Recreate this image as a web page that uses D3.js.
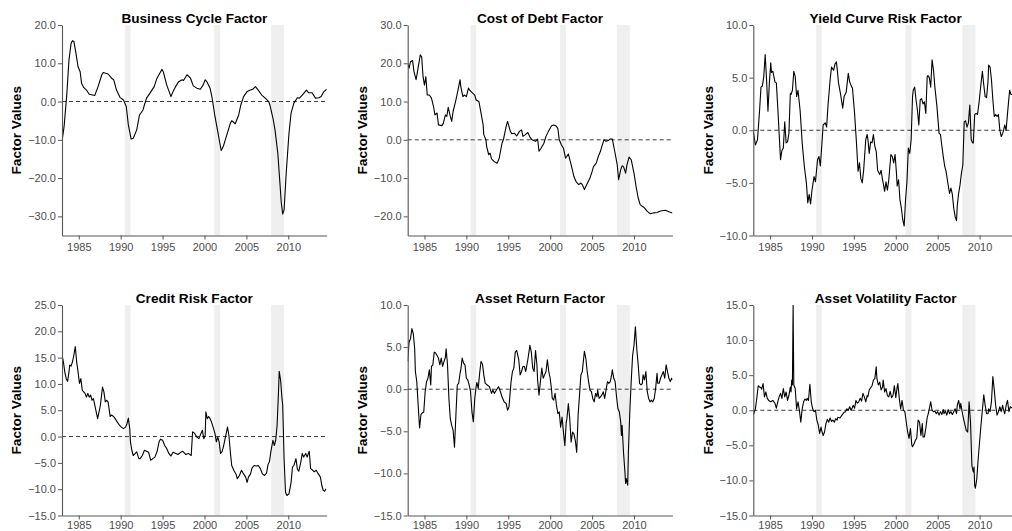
<!DOCTYPE html>
<html>
<head>
<meta charset="utf-8">
<script src="https://cdn.jsdelivr.net/npm/d3@7"></script>
<style>
  body { margin: 0; background: #fff; }
  svg { display: block; }
  text { font-family: "Liberation Sans", Arial, Helvetica, sans-serif; }
</style>
</head>
<body>
<svg id="chart" width="1012" height="531"></svg>
<script>
// Monthly factor estimates; month index 0 = January 1983.
const startYear = 1983;
const lastMonth = 379; // August 2014

const yearTicks = [1985, 1990, 1995, 2000, 2005, 2010];

// NBER recession periods (decimal years)
const recessions = [[1990.5, 1991.17], [2001.17, 2001.875], [2007.95, 2009.5]];

const businessCycle = [[0,-10.4],[3,-6.5],[7,2.2],[10,10.9],[13,15.2],[15,15.9],[17,15.7],[20,12.6],[23,9.1],[26,7.8],[28,4.8],[31,3.7],[35,3.0],[39,1.9],[47,1.6],[52,4.1],[57,7.0],[59,7.6],[66,7.2],[71,6.1],[74,5.7],[78,3.0],[83,1.1],[88,0.4],[92,-1.3],[95,-6.1],[99,-9.8],[102,-9.6],[107,-7.4],[111,-3.5],[116,-2.2],[118,-0.9],[121,0.9],[126,2.2],[132,3.9],[136,6.1],[143,8.4],[145,7.8],[150,4.3],[156,1.3],[159,2.6],[162,3.7],[167,5.2],[172,5.7],[174,5.5],[179,7.0],[184,6.1],[188,4.1],[193,3.5],[198,3.2],[202,4.3],[205,5.7],[208,5.0],[212,3.5],[215,0.9],[219,-3.9],[223,-7.8],[226,-10.9],[228,-12.8],[231,-11.7],[236,-8.7],[241,-5.7],[243,-5.0],[248,-5.8],[253,-3.5],[256,-0.9],[260,1.3],[265,2.6],[270,3.0],[273,3.2],[277,3.9],[281,3.0],[286,1.7],[291,0.9],[296,0.0],[298,-1.1],[302,-4.3],[305,-7.4],[309,-13.5],[312,-21.3],[314,-26.5],[316,-29.4],[318,-28.3],[321,-18.7],[325,-8.3],[328,-3.0],[332,-0.4],[337,1.0],[340,0.9],[344,1.7],[350,3.0],[353,2.3],[358,2.3],[363,0.9],[368,1.0],[371,1.3],[375,2.6],[379,3.2]];

const costOfDebt = [[0,20.0],[2,18.7],[4,20.4],[7,20.7],[9,17.8],[12,15.7],[14,17.8],[18,22.2],[20,21.7],[22,16.5],[24,14.3],[26,16.5],[28,11.7],[31,11.7],[34,10.9],[37,8.7],[39,6.5],[42,7.0],[44,3.9],[49,3.7],[51,4.3],[54,6.5],[56,6.1],[58,8.5],[61,6.1],[63,4.8],[65,7.4],[69,10.4],[72,13.0],[75,15.7],[76,13.9],[79,11.3],[81,11.7],[84,11.3],[87,13.5],[89,12.9],[93,12.2],[96,11.7],[98,10.4],[102,10.0],[105,7.0],[108,3.9],[109,1.3],[112,0.0],[113,-1.7],[116,-3.9],[118,-3.5],[120,-5.0],[124,-5.7],[128,-6.1],[131,-4.8],[135,-0.9],[137,0.0],[141,3.5],[143,4.8],[147,2.2],[149,1.6],[153,1.7],[156,1.0],[160,2.2],[163,2.6],[165,0.9],[168,1.3],[172,1.9],[175,0.7],[178,0.0],[183,-0.4],[186,0.2],[188,-3.0],[191,-2.2],[195,-0.9],[198,0.9],[202,2.4],[206,3.7],[209,3.9],[212,3.7],[215,3.0],[217,0.0],[220,-1.3],[223,-2.2],[226,-4.8],[228,-4.3],[230,-3.7],[234,-6.5],[238,-9.6],[241,-10.9],[245,-11.7],[248,-11.3],[250,-11.7],[253,-13.0],[255,-12.2],[258,-11.1],[261,-10.0],[264,-8.3],[266,-7.0],[270,-6.1],[273,-4.3],[276,-3.0],[278,-1.7],[281,0.0],[284,-0.4],[287,-0.2],[290,0.2],[293,0.2],[296,-2.6],[300,-6.5],[302,-10.4],[305,-7.8],[307,-6.8],[309,-7.0],[312,-8.7],[314,-6.5],[317,-4.5],[320,-5.2],[324,-8.7],[327,-12.2],[330,-15.2],[333,-17.0],[338,-17.6],[343,-18.7],[347,-19.3],[352,-19.1],[357,-19.0],[362,-18.6],[369,-18.4],[374,-18.8],[379,-19.1]];

const yieldCurveRisk = [[0,-0.1],[3,-1.4],[6,-0.9],[9,1.9],[11,4.1],[13,4.2],[15,5.1],[17,7.2],[19,4.8],[21,1.8],[23,4.5],[25,6.4],[26,5.5],[28,5.6],[31,4.6],[33,4.5],[35,2.2],[37,-0.3],[39,-2.8],[41,-1.9],[43,-1.7],[45,0.8],[47,-1.2],[49,-1.1],[51,-0.3],[53,3.5],[54,3.4],[56,3.8],[58,5.6],[60,5.1],[62,3.2],[64,3.8],[67,1.9],[70,-1.2],[73,-3.4],[76,-5.0],[78,-6.9],[80,-6.1],[82,-7.0],[84,-5.7],[87,-4.4],[89,-4.9],[92,-2.8],[94,-2.5],[96,-3.4],[98,-1.5],[100,0.5],[103,0.7],[105,0.3],[107,2.4],[110,4.8],[112,6.0],[115,5.7],[117,6.3],[119,6.5],[120,5.9],[122,4.5],[125,3.4],[128,2.1],[130,3.2],[133,3.6],[136,5.4],[138,4.6],[141,4.1],[142,4.0],[145,1.6],[148,-1.5],[150,-3.9],[152,-3.1],[154,-4.6],[156,-5.0],[158,-3.8],[161,-0.9],[163,-0.4],[164,-0.8],[166,-2.2],[168,-1.1],[170,-1.2],[172,-0.4],[174,-1.5],[176,-2.0],[178,-3.8],[181,-4.2],[183,-3.8],[185,-4.7],[186,-5.0],[188,-5.8],[190,-4.9],[192,-5.7],[194,-4.7],[197,-2.3],[199,-2.5],[201,-3.1],[203,-2.3],[205,-4.1],[206,-5.3],[208,-4.7],[210,-6.6],[212,-7.4],[214,-8.5],[216,-9.1],[218,-6.6],[220,-4.9],[222,-1.7],[224,-2.2],[226,-0.9],[228,3.2],[229,3.8],[231,4.1],[233,2.9],[235,1.9],[237,0.5],[239,2.9],[241,3.0],[243,2.5],[245,2.7],[247,1.6],[249,5.1],[250,5.2],[252,5.0],[254,4.1],[256,6.7],[258,5.7],[260,4.1],[263,2.2],[266,-0.3],[268,-0.4],[270,-1.5],[272,-2.5],[274,-3.4],[276,-3.9],[279,-5.2],[281,-6.0],[283,-5.5],[285,-6.1],[287,-7.4],[289,-8.2],[291,-8.6],[292,-7.2],[294,-6.0],[296,-5.2],[298,-4.1],[300,-3.3],[302,0.8],[304,0.9],[306,0.3],[308,0.7],[310,2.4],[312,-0.9],[314,-1.2],[315,-1.2],[317,1.5],[319,1.6],[321,1.5],[323,2.5],[325,3.8],[328,5.6],[330,4.3],[332,3.2],[334,3.1],[336,4.6],[337,6.2],[339,6.0],[341,4.8],[343,2.9],[345,1.3],[347,1.5],[349,1.3],[351,1.5],[353,0.0],[355,-0.6],[357,-0.3],[358,-0.1],[360,0.5],[362,0.0],[364,1.6],[367,3.8],[369,3.4],[371,3.4]];

const creditRisk = [[0,15.5],[2,14.2],[4,12.3],[6,11.0],[8,10.5],[10,12.3],[11,13.6],[13,13.4],[15,14.2],[17,15.5],[19,17.1],[21,14.2],[23,12.3],[25,10.1],[27,11.0],[29,8.8],[31,8.5],[33,8.2],[35,7.5],[37,8.2],[39,7.5],[41,7.9],[43,6.9],[45,7.2],[48,5.3],[51,3.4],[54,5.3],[55,6.0],[58,9.4],[60,8.5],[62,6.6],[64,6.9],[66,6.6],[69,3.8],[71,4.1],[74,3.8],[76,3.4],[79,2.8],[82,2.2],[85,1.8],[88,1.5],[91,1.8],[93,2.4],[95,3.5],[97,1.5],[98,-1.0],[100,-2.6],[102,-3.6],[105,-3.2],[107,-2.9],[110,-4.2],[112,-4.2],[115,-3.6],[118,-2.6],[121,-2.8],[124,-3.0],[127,-4.5],[130,-4.2],[133,-3.9],[136,-2.9],[139,-1.0],[141,-0.5],[144,-0.7],[147,-1.7],[150,-2.3],[153,-3.2],[156,-3.7],[159,-3.0],[163,-3.2],[166,-3.4],[170,-3.0],[173,-2.8],[177,-3.4],[181,-3.2],[185,-3.6],[187,0.9],[190,0.6],[193,-0.1],[196,-0.4],[199,0.6],[201,1.2],[203,-0.4],[205,0.2],[206,4.7],[208,3.4],[210,3.8],[212,3.4],[214,2.8],[217,1.5],[219,0.6],[221,-1.0],[223,-0.1],[225,-1.0],[227,-3.2],[229,-2.9],[231,-2.0],[234,-0.1],[237,1.8],[239,0.2],[241,-2.9],[243,-5.5],[246,-6.4],[249,-7.1],[251,-8.0],[254,-7.4],[257,-6.4],[260,-7.1],[263,-7.7],[265,-8.7],[267,-7.7],[270,-7.1],[272,-6.0],[275,-5.5],[278,-5.6],[281,-5.5],[284,-6.1],[287,-7.1],[290,-7.4],[293,-6.9],[295,-5.3],[297,-4.8],[299,-2.9],[302,-0.7],[304,-1.7],[306,-0.7],[308,2.2],[310,8.5],[311,12.4],[313,10.7],[315,7.2],[316,6.0],[318,-4.2],[320,-10.6],[322,-11.2],[325,-10.9],[328,-8.7],[330,-5.8],[332,-5.5],[335,-4.2],[337,-6.2],[339,-6.6],[342,-4.8],[344,-3.2],[346,-3.9],[349,-3.2],[351,-3.9],[354,-2.8],[356,-6.1],[359,-6.4],[361,-6.7],[364,-6.4],[367,-7.1],[370,-7.7],[372,-9.3],[374,-10.2],[376,-10.4],[378,-9.9]];

const assetReturn = [[0,3.3],[2,5.6],[4,6.0],[6,7.2],[8,6.6],[10,4.8],[11,2.1],[13,0.9],[15,-1.9],[17,-4.6],[19,-3.0],[21,-2.8],[23,-2.7],[25,-0.3],[27,0.9],[29,1.3],[31,2.3],[33,0.5],[34,2.7],[36,2.9],[38,4.4],[40,4.3],[42,4.0],[44,3.7],[46,2.9],[48,3.7],[50,2.7],[52,3.3],[54,3.8],[55,4.8],[57,2.9],[59,-1.1],[61,-3.5],[63,-4.3],[65,-4.9],[67,-6.9],[69,-3.1],[71,0.5],[73,0.7],[75,1.9],[76,2.3],[78,3.7],[80,3.1],[82,2.9],[84,1.3],[86,1.1],[88,0.5],[90,-0.3],[92,-2.7],[94,-3.9],[96,-1.1],[98,0.3],[99,0.8],[101,0.1],[103,1.9],[105,3.3],[107,3.0],[109,1.7],[111,0.7],[114,0.5],[117,0.3],[120,-0.5],[122,-0.1],[124,-0.5],[127,-0.1],[130,0.3],[132,-0.1],[135,-0.9],[138,-1.5],[141,-1.7],[143,-2.5],[145,-2.1],[148,0.9],[150,2.1],[152,2.5],[154,4.4],[156,4.6],[159,3.5],[161,1.7],[163,2.1],[165,2.7],[167,2.7],[169,2.1],[172,3.5],[175,5.2],[177,4.4],[179,2.5],[181,2.1],[183,4.6],[185,2.9],[186,1.1],[188,-0.7],[190,0.9],[192,2.5],[194,1.3],[196,1.7],[198,2.1],[200,3.5],[202,2.1],[204,1.3],[206,-0.1],[207,-1.1],[209,-1.3],[211,-0.5],[213,-1.9],[215,-2.9],[217,-2.7],[219,-4.5],[221,-3.3],[223,-5.1],[225,-6.7],[227,-3.9],[228,-3.5],[230,-1.7],[232,-3.5],[234,-6.3],[236,-5.1],[238,-5.3],[240,-6.1],[242,-7.5],[244,-3.1],[246,-0.7],[248,1.7],[250,2.1],[251,2.9],[253,4.5],[255,3.7],[257,2.1],[259,0.9],[261,-0.1],[263,-0.3],[265,-1.1],[267,-1.5],[269,-0.5],[271,-0.9],[272,-0.1],[274,-1.1],[276,-0.9],[278,-0.7],[280,-0.3],[282,-1.1],[284,-0.1],[286,0.9],[288,0.7],[290,0.9],[292,1.7],[293,2.3],[295,1.3],[297,0.9],[299,-0.9],[301,-2.3],[303,-2.7],[305,-3.9],[306,-5.5],[307,-4.3],[309,-7.5],[311,-9.8],[312,-11.2],[313,-10.6],[315,-11.4],[316,-7.5],[318,-2.7],[320,0.9],[322,4.0],[324,5.2],[326,7.4],[328,4.8],[330,2.9],[332,0.7],[334,0.5],[336,0.7],[337,1.7],[339,1.1],[341,2.1],[343,-0.3],[345,-1.1],[347,-1.5],[349,-1.3],[351,-1.5],[353,-1.1],[355,0.1],[357,1.9],[358,0.7],[360,0.7],[362,1.3],[364,1.7],[366,2.1],[368,1.3],[370,2.9],[372,2.1],[374,1.3],[376,0.9],[378,1.3],[379,1.1]];

const assetVolatility = [[0,-0.7],[3,0.2],[5,1.7],[7,3.5],[9,3.3],[11,3.2],[12,3.0],[14,3.8],[16,1.9],[18,2.6],[20,1.7],[22,1.4],[25,1.2],[28,1.4],[31,1.0],[33,0.3],[35,1.2],[37,1.9],[39,2.4],[41,1.7],[43,3.1],[45,1.9],[47,2.6],[49,1.4],[51,2.1],[53,3.3],[54,2.6],[55,4.3],[56,3.6],[57,15.0],[58,3.6],[60,3.1],[62,0.2],[64,1.2],[66,0.0],[68,-1.7],[70,0.2],[72,1.2],[74,1.6],[76,1.4],[77,1.7],[79,1.4],[81,3.7],[83,1.2],[85,0.2],[87,-0.2],[89,0.0],[91,-1.4],[93,-2.1],[95,-3.3],[97,-2.4],[98,-2.9],[100,-3.6],[102,-3.1],[104,-1.9],[106,-1.3],[108,-1.7],[110,-1.1],[112,-1.6],[114,-1.4],[116,-1.7],[118,-1.2],[120,-1.4],[121,-1.0],[124,-1.1],[127,-0.7],[130,-0.3],[132,-0.2],[134,0.2],[136,0.0],[138,0.5],[140,0.0],[141,0.2],[143,0.7],[145,0.3],[147,1.4],[149,1.0],[151,1.2],[153,1.7],[155,1.3],[157,2.4],[159,1.9],[161,1.2],[163,2.1],[164,1.9],[166,2.9],[168,3.2],[170,3.5],[172,4.3],[174,4.5],[176,6.2],[177,4.5],[179,3.6],[181,4.0],[183,2.9],[185,3.3],[186,4.3],[188,2.6],[190,3.1],[192,2.1],[194,1.9],[196,2.7],[198,1.8],[200,2.1],[202,3.5],[204,1.8],[206,3.3],[207,3.8],[209,1.7],[211,0.2],[213,1.4],[215,0.0],[217,-0.2],[219,-1.7],[221,-3.1],[223,-4.0],[225,-2.6],[227,-5.0],[228,-5.2],[230,-4.8],[232,-4.3],[234,-4.0],[236,-1.4],[238,-1.7],[240,-3.6],[242,-1.9],[243,-3.8],[245,-3.8],[247,-2.6],[249,-1.0],[250,-0.7],[252,0.2],[254,1.2],[256,0.0],[258,-0.2],[260,-0.1],[262,-0.5],[264,-0.2],[266,-0.7],[268,-0.2],[270,-0.6],[272,0.1],[273,-0.5],[275,-0.1],[277,-0.7],[279,0.1],[281,-0.5],[283,-0.2],[285,-0.6],[287,-0.2],[289,0.2],[291,-0.5],[292,0.7],[294,1.4],[296,0.2],[297,1.0],[299,-0.2],[301,-1.2],[303,-2.1],[305,-2.9],[307,-3.1],[309,1.2],[311,-1.7],[313,-7.9],[315,-8.8],[316,-8.1],[317,-10.7],[318,-11.1],[320,-9.8],[322,-6.9],[324,-4.5],[326,-2.1],[328,0.0],[330,2.2],[332,0.7],[334,-0.5],[336,-0.5],[337,0.2],[339,-0.2],[341,1.2],[343,4.8],[345,2.9],[347,0.7],[349,-0.7],[351,-0.2],[353,0.5],[355,-0.2],[357,0.7],[358,0.2],[360,-0.5],[362,0.7],[364,1.4],[366,-0.2],[368,0.5],[371,0.3]];

// Y-axis tick values per panel
const ticksBusiness = [-30, -20, -10, 0, 10, 20];
const ticksDebt = [-20, -10, 0, 10, 20, 30];
const ticksYield = [-10, -5, 0, 5, 10];
const ticksCredit = [-15, -10, -5, 0, 5, 10, 15, 20, 25];
const ticksReturn = [-15, -10, -5, 0, 5, 10];
const ticksVolatility = [-15, -10, -5, 0, 5, 10, 15];

const panels = [
  { title: "Business Cycle Factor", data: businessCycle, domain: [-35, 20], ticks: ticksBusiness },
  { title: "Cost of Debt Factor", data: costOfDebt, domain: [-25, 30], ticks: ticksDebt },
  { title: "Yield Curve Risk Factor", data: yieldCurveRisk, domain: [-10, 10], ticks: ticksYield },
  { title: "Credit Risk Factor", data: creditRisk, domain: [-15, 25], ticks: ticksCredit },
  { title: "Asset Return Factor", data: assetReturn, domain: [-15, 10], ticks: ticksReturn },
  { title: "Asset Volatility Factor", data: assetVolatility, domain: [-15, 15], ticks: ticksVolatility }
];

const svg = d3.select("#chart");
const colX = [62, 407.7, 753.3];
const rowY = [25, 305];
const pw = 264.7, ph = 210.5;
const axisColor = "#555";
const labelColor = "#4d4d4d";
const fmt = d3.format(".1f");

const x = d3.scaleLinear()
  .domain([startYear, startYear + lastMonth / 12])
  .range([0, pw]);

panels.forEach((p, i) => {
  const row = Math.floor(i / 3);
  const ox = colX[i % 3], oy = rowY[row];
  const g = svg.append("g").attr("transform", `translate(${ox},${oy})`);
  const y = d3.scaleLinear().domain(p.domain).range([ph, 0]);

  g.append("clipPath").attr("id", "clip" + i)
    .append("rect").attr("x", 0).attr("y", 0).attr("width", pw).attr("height", ph);

  // recession shading
  g.selectAll("rect.band").data(recessions).join("rect")
    .attr("class", "band")
    .attr("x", d => x(d[0]))
    .attr("width", d => x(d[1]) - x(d[0]))
    .attr("y", 0).attr("height", ph)
    .attr("fill", "#efefef");

  // zero reference
  g.append("line")
    .attr("x1", 0).attr("x2", pw)
    .attr("y1", y(0)).attr("y2", y(0))
    .attr("stroke", "#3a3a3a").attr("stroke-width", 1)
    .attr("stroke-dasharray", "4,3");

  // factor series
  const line = d3.line()
    .x(d => x(startYear + d[0] / 12))
    .y(d => y(d[1]));
  g.append("path").datum(p.data)
    .attr("d", line)
    .attr("fill", "none")
    .attr("stroke", "#000")
    .attr("stroke-width", 1.1)
    .attr("stroke-linejoin", "round")
    .attr("clip-path", `url(#clip${i})`);

  // axes (bottom row labels kept slightly tighter so they stay inside the page)
  const yAxis = g.append("g")
    .call(d3.axisLeft(y).tickValues(p.ticks).tickFormat(fmt).tickSize(4).tickSizeOuter(0).tickPadding(2));
  const xAxis = g.append("g").attr("transform", `translate(0,${ph})`)
    .call(d3.axisBottom(x).tickValues(yearTicks).tickFormat(d3.format("d"))
      .tickSize(4).tickSizeOuter(0).tickPadding(row === 0 ? 3.5 : 1.5));

  [yAxis, xAxis].forEach(a => {
    a.select(".domain").attr("stroke", axisColor).attr("stroke-width", 1.1);
    a.selectAll(".tick line").attr("stroke", axisColor).attr("stroke-width", 1);
    a.selectAll(".tick text")
      .attr("fill", labelColor)
      .style("font-size", "11px")
      .style("font-family", '"Liberation Sans", Arial, sans-serif');
  });

  // panel title
  g.append("text")
    .attr("x", pw / 2).attr("y", -2.5)
    .attr("text-anchor", "middle")
    .style("font-size", "13.6px").style("font-weight", "bold")
    .attr("fill", "#000")
    .text(p.title);

  // y-axis title
  g.append("text")
    .attr("transform", `translate(-40.8,${ph / 2}) rotate(-90)`)
    .attr("text-anchor", "middle")
    .style("font-size", "13.6px").style("font-weight", "bold")
    .attr("fill", "#000")
    .text("Factor Values");
});
</script>
</body>
</html>
